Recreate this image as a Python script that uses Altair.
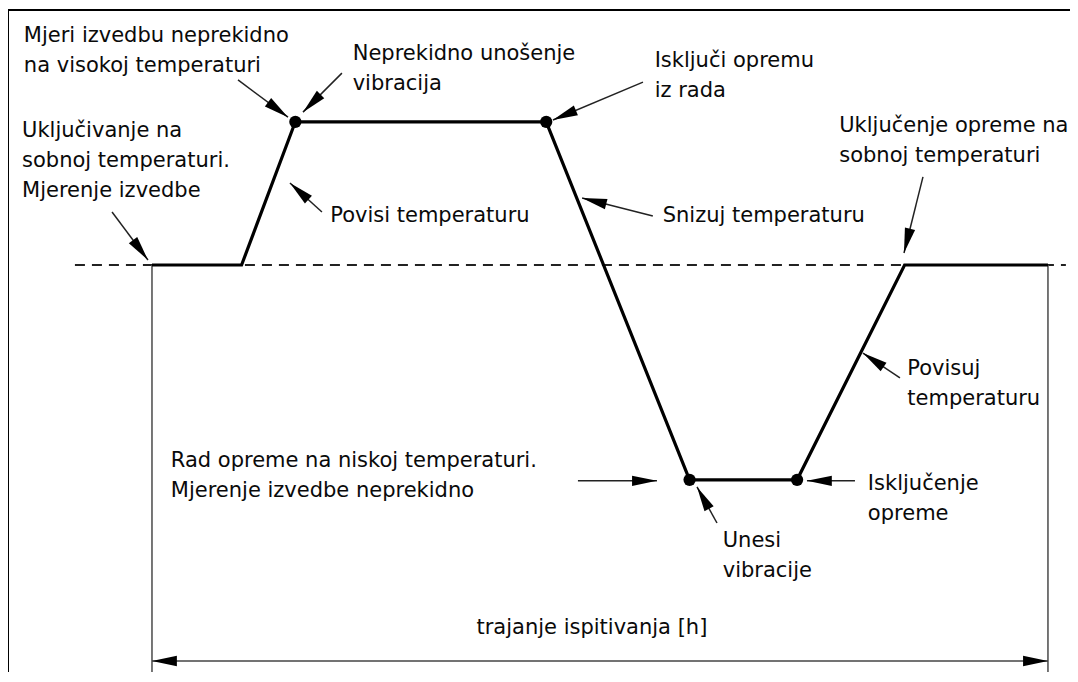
import math
import altair as alt
import pandas as pd

# ---- test profile: time (share of test duration) and temperature (deg C) ----
profile_t = [0, 10, 16, 44, 60, 72, 84, 100]
profile_T = [20, 20, 60, 60, -40, -40, 20, 20]

# marked events (dots)
event_t = [16, 44, 60, 72]
event_T = [60, 60, -40, -40]

room_T = 20
dash_t = [-8.6, 102.0]
bounds_t = [0, 100]

# ---- annotation labels ----
label_text = [
    "Mjeri izvedbu neprekidno\nna visokoj temperaturi",
    "Neprekidno unošenje\nvibracija",
    "Isključi opremu\niz rada",
    "Uključivanje na\nsobnoj temperaturi.\nMjerenje izvedbe",
    "Povisi temperaturu",
    "Snizuj temperaturu",
    "Uključenje opreme na\nsobnoj temperaturi",
    "Povisuj\ntemperaturu",
    "Rad opreme na niskoj temperaturi.\nMjerenje izvedbe neprekidno",
    "Isključenje\nopreme",
    "Unesi\nvibracije",
]
label_t = [-14.3, 22.4, 56.1, -14.5, 19.9, 57.0, 76.7, 84.3, 2.1, 79.9, 63.7]
label_T = [82.3, 77.3, 75.3, 55.75, 32.0, 32.0, 57.1, -10.7, -36.4, -42.8, -58.8]

# ---- annotation arrows: tail (t1, T1) -> tip (t2, T2) ----
arrow_t1 = [9.6, 21.2, 54.8, -4.46, 18.97, 55.9, 86.05, 83.48, 47.54, 78.46, 63.06]
arrow_T1 = [71.7, 73.6, 71.1, 34.8, 34.8, 33.7, 44.6, -11.56, -40.3, -40.3, -52.07]
arrow_t2 = [15.18, 16.85, 44.75, -0.45, 15.4, 48.0, 83.93, 79.35, 56.36, 73.1, 60.83]
arrow_T2 = [61.3, 62.7, 60.5, 21.4, 42.9, 38.7, 23.35, -4.6, -40.3, -40.3, -42.0]

# duration arrow
duration_T = -90.6
duration_label = "trajanje ispitivanja [h]"
duration_label_t = 49.1
duration_label_T = -83.1

# ---- layout ----
W, H = 1062, 664
t_dom = [-16.07, 102.46]
T_dom = [-93.69, 91.79]
px_t = W / (t_dom[1] - t_dom[0])
px_T = H / (T_dom[1] - T_dom[0])

xs = alt.Scale(domain=t_dom, nice=False, zero=False)
ys = alt.Scale(domain=T_dom, nice=False, zero=False)
FONT = "DejaVu Sans"
FS = 21
ARROW_PATH = "M0,0L0.42,2L-0.42,2Z"
HEAD_SIZE = 620


def head_angle(t1, T1, t2, T2):
    dx = (t2 - t1) * px_t
    dy = -(T2 - T1) * px_T
    return (math.degrees(math.atan2(dx, -dy)) + 360) % 360


profile = pd.DataFrame({"t": profile_t, "T": profile_T, "i": range(len(profile_t))})
events = pd.DataFrame({"t": event_t, "T": event_T})
labels = pd.DataFrame({"text": label_text, "t": label_t, "T": label_T})
arrows = pd.DataFrame({"t1": arrow_t1, "T1": arrow_T1, "t2": arrow_t2, "T2": arrow_T2})
arrows["angle"] = [head_angle(a, b, c, d) for a, b, c, d in zip(arrow_t1, arrow_T1, arrow_t2, arrow_T2)]
dash = pd.DataFrame({"t1": [dash_t[0]], "t2": [dash_t[1]], "T": [room_T]})
bounds = pd.DataFrame({"t": bounds_t, "T1": [room_T] * 2, "T2": [T_dom[0]] * 2})
dur_line = pd.DataFrame({"t1": [bounds_t[0]], "t2": [bounds_t[1]], "T": [duration_T]})
dur_heads = pd.DataFrame({"t": bounds_t, "T": [duration_T] * 2, "angle": [270, 90]})
dur_text = pd.DataFrame({"text": [duration_label], "t": [duration_label_t], "T": [duration_label_T]})

frame_top = alt.Chart(pd.DataFrame({"a": [0]})).mark_rule(color="#000", strokeWidth=2).encode(
    x=alt.value(0), x2=alt.value(W), y=alt.value(2))
frame_left = alt.Chart(pd.DataFrame({"a": [0]})).mark_rule(color="#000", strokeWidth=2).encode(
    x=alt.value(0), y=alt.value(2), y2=alt.value(H))

dash_layer = alt.Chart(dash).mark_rule(color="#222", strokeWidth=2, strokeDash=[10, 7]).encode(
    x=alt.X("t1:Q", scale=xs, axis=None), x2="t2:Q",
    y=alt.Y("T:Q", scale=ys, axis=None))

bounds_layer = alt.Chart(bounds).mark_rule(color="#555", strokeWidth=1.6).encode(
    x=alt.X("t:Q", scale=xs, axis=None),
    y=alt.Y("T1:Q", scale=ys, axis=None), y2="T2:Q")

profile_layer = alt.Chart(profile).mark_line(color="#000", strokeWidth=3.2, strokeJoin="miter").encode(
    x=alt.X("t:Q", scale=xs, axis=None),
    y=alt.Y("T:Q", scale=ys, axis=None),
    order="i:Q")

event_layer = alt.Chart(events).mark_point(filled=True, color="#000", size=150, opacity=1, shape="circle").encode(
    x=alt.X("t:Q", scale=xs, axis=None),
    y=alt.Y("T:Q", scale=ys, axis=None))

arrow_lines = alt.Chart(arrows).mark_rule(color="#222", strokeWidth=1.5).encode(
    x=alt.X("t1:Q", scale=xs, axis=None), x2="t2:Q",
    y=alt.Y("T1:Q", scale=ys, axis=None), y2="T2:Q")

arrow_heads = alt.Chart(arrows).mark_point(shape=ARROW_PATH, filled=True, color="#000", size=HEAD_SIZE, opacity=1).encode(
    x=alt.X("t2:Q", scale=xs, axis=None),
    y=alt.Y("T2:Q", scale=ys, axis=None),
    angle=alt.Angle("angle:Q", scale=None))

dur_line_layer = alt.Chart(dur_line).mark_rule(color="#444", strokeWidth=1.6).encode(
    x=alt.X("t1:Q", scale=xs, axis=None), x2="t2:Q",
    y=alt.Y("T:Q", scale=ys, axis=None))

dur_heads_layer = alt.Chart(dur_heads).mark_point(shape=ARROW_PATH, filled=True, color="#000", size=HEAD_SIZE, opacity=1).encode(
    x=alt.X("t:Q", scale=xs, axis=None),
    y=alt.Y("T:Q", scale=ys, axis=None),
    angle=alt.Angle("angle:Q", scale=None))

label_layer = alt.Chart(labels).mark_text(
    align="left", baseline="alphabetic", font=FONT, fontSize=FS, lineBreak="\n",
    lineHeight=30, color="#0a0a0a").encode(
    x=alt.X("t:Q", scale=xs, axis=None),
    y=alt.Y("T:Q", scale=ys, axis=None),
    text="text:N")

dur_text_layer = alt.Chart(dur_text).mark_text(
    align="center", baseline="alphabetic", font=FONT, fontSize=FS, color="#0a0a0a").encode(
    x=alt.X("t:Q", scale=xs, axis=None),
    y=alt.Y("T:Q", scale=ys, axis=None),
    text="text:N")

chart = alt.layer(
    frame_top, frame_left, dash_layer, bounds_layer, dur_line_layer, dur_heads_layer,
    profile_layer, event_layer, arrow_lines, arrow_heads, label_layer, dur_text_layer,
).properties(
    width=W, height=H,
    autosize=alt.AutoSizeParams(type="none"),
    padding=0, background="white",
).configure_view(stroke=None)

chart.save("out.html", embed_options={"renderer": "svg", "actions": False})
